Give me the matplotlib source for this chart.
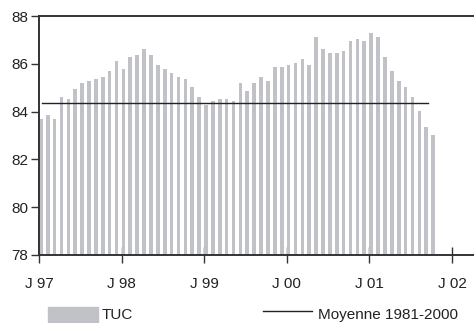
import matplotlib
matplotlib.use("Agg")
import matplotlib.pyplot as plt
from matplotlib.patches import Rectangle
from matplotlib.lines import Line2D
import numpy as np

plt.rcParams['font.family'] = ['Liberation Sans', 'DejaVu Sans']

# Monthly TUC values, Jan 1997 - Oct 2001
tuc = [83.70, 83.86, 83.70, 84.61, 84.53, 84.95, 85.20, 85.28, 85.36, 85.45, 85.70, 86.12,
       85.78, 86.28, 86.37, 86.62, 86.37, 85.95, 85.78, 85.62, 85.45, 85.36, 85.03, 84.61,
       84.28, 84.44, 84.53, 84.53, 84.44, 85.20, 84.86, 85.20, 85.45, 85.28, 85.87, 85.87,
       85.95, 86.03, 86.20, 85.95, 87.12, 86.62, 86.45, 86.45, 86.54, 86.95, 87.04, 86.95,
       87.29, 87.12, 86.28, 85.70, 85.28, 85.03, 84.61, 84.03, 83.36, 83.02]
moyenne = 84.36
moyenne_span = [0.5, 56.5]
tick_labels = ["J 97", "J 98", "J 99", "J 00", "J 01", "J 02"]
yticks = [78, 80, 82, 84, 86, 88]

W, H = 474, 323
fig = plt.figure(figsize=(W/100, H/100), dpi=100)
ax = fig.add_axes([39/W, 1-255/H, 1-39/W, (255-16)/H])

months = np.arange(len(tuc))
bar_color = '#c0c2c8'
ax.bar(months, np.array(tuc) - 78, bottom=78, width=0.53, align='edge',
       color=bar_color, edgecolor='none', zorder=2)
ax.plot(moyenne_span, [moyenne, moyenne], color='#222222', lw=1.0, zorder=3)

ax.set_xlim(0, 63.2)
ax.set_ylim(78, 88)
ax.set_yticks(yticks)
ax.set_yticklabels([str(v) for v in yticks])
ax.set_xticks(np.arange(len(tick_labels)) * 12)
ax.set_xticklabels(tick_labels)

for s in ['left', 'top', 'bottom']:
    ax.spines[s].set_color('#333333')
    ax.spines[s].set_linewidth(1.4)
ax.spines['right'].set_visible(False)

fs = 11
ax.tick_params(axis='y', direction='out', length=6, width=1, color='#333333',
               labelsize=fs, pad=2, labelcolor='#222222')
ax.tick_params(axis='x', direction='inout', length=12, width=1, color='#333333',
               labelsize=fs, pad=10, labelcolor='#222222')

# Legend
fig.patches.append(Rectangle((48/W, 1-322/H), 50/W, 15/H, transform=fig.transFigure,
                             color=bar_color, figure=fig))
fig.text(102/W, 1-315/H, "TUC", fontsize=fs, va='center', ha='left', color='#222222')
fig.lines.append(Line2D([263/W, 312/W], [1-311/H, 1-311/H], transform=fig.transFigure,
                        color='#222222', lw=1.0, figure=fig))
fig.text(318/W, 1-315/H, "Moyenne 1981-2000", fontsize=fs, va='center', ha='left',
         color='#222222')

fig.savefig("out.png", dpi=100)
